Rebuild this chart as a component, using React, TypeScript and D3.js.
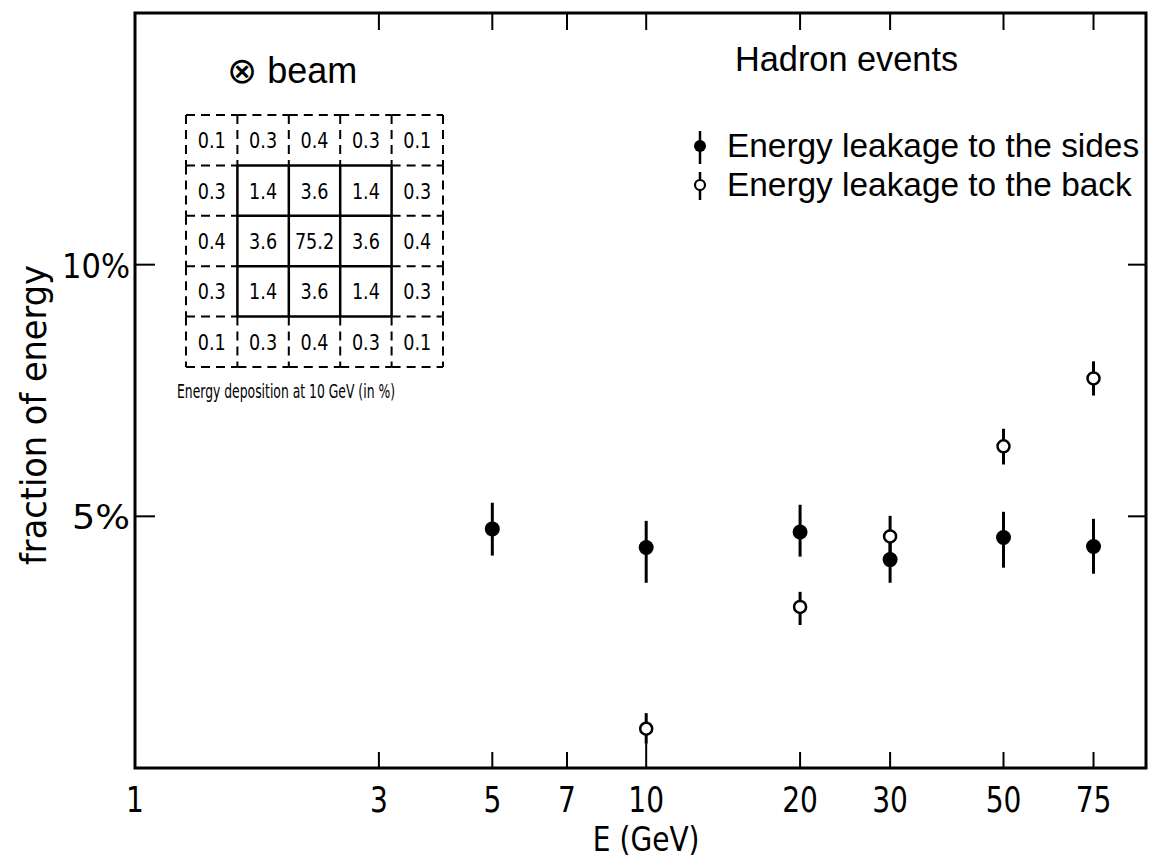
import React from "react";
import * as d3 from "d3";

// ---- Data ----
const xTickValues = [1, 3, 5, 7, 10, 20, 30, 50, 75];
const yTickValues = [5, 10];

const sidesEnergy = [5, 10, 20, 30, 50, 75];
const sidesValue = [4.75, 4.38, 4.69, 4.14, 4.58, 4.4];
const sidesLow = [4.22, 3.68, 4.2, 3.68, 3.98, 3.86];
const sidesHigh = [5.27, 4.91, 5.23, 4.58, 5.09, 4.95];

const backEnergy = [10, 20, 30, 50, 75];
const backValue = [0.78, 3.2, 4.6, 6.39, 7.74];
const backLow = [0.48, 2.84, 4.24, 6.03, 7.4];
const backHigh = [1.09, 3.5, 5.01, 6.74, 8.08];

const insetRow1 = ["0.1", "0.3", "0.4", "0.3", "0.1"];
const insetRow2 = ["0.3", "1.4", "3.6", "1.4", "0.3"];
const insetRow3 = ["0.4", "3.6", "75.2", "3.6", "0.4"];
const insetRow4 = ["0.3", "1.4", "3.6", "1.4", "0.3"];
const insetRow5 = ["0.1", "0.3", "0.4", "0.3", "0.1"];
const insetRows = [insetRow1, insetRow2, insetRow3, insetRow4, insetRow5];

const legendTitle = "Hadron events";
const legendSides = "Energy leakage to the sides";
const legendBack = "Energy leakage to the back";
const insetCaption = "Energy deposition at 10 GeV (in %)";
const xTitle = "E (GeV)";
const yTitle = "fraction of energy";

// ---- Layout ----
const W = 1150;
const H = 858;
const left = 135;
const right = 1146;
const top = 13;
const bottom = 768;
const FONT = "'DejaVu Sans', 'Liberation Sans', sans-serif";
const LEGEND_FONT = "'Liberation Sans', 'DejaVu Sans', sans-serif";

export default function App() {
  const x = d3.scaleLog().domain([1, 95]).range([left, right]);
  const y = d3.scaleLinear().domain([0, 15]).range([bottom, top]);

  // inset grid scales
  const gx = d3.scaleLinear().domain([0, 5]).range([186, 443]);
  const gy = d3.scaleLinear().domain([0, 5]).range([115, 367]);
  const isInner = (r: number, c: number) => r >= 1 && r <= 3 && c >= 1 && c <= 3;

  const gridSegs: { x1: number; y1: number; x2: number; y2: number; solid: boolean }[] = [];
  for (let k = 0; k <= 5; k++) {
    for (let c = 0; c < 5; c++) {
      const solid = (k - 1 >= 0 && isInner(k - 1, c)) || (k <= 4 && isInner(k, c));
      gridSegs.push({ x1: gx(c), y1: gy(k), x2: gx(c + 1), y2: gy(k), solid });
    }
  }
  for (let k = 0; k <= 5; k++) {
    for (let r = 0; r < 5; r++) {
      const solid = (k - 1 >= 0 && isInner(r, k - 1)) || (k <= 4 && isInner(r, k));
      gridSegs.push({ x1: gx(k), y1: gy(r), x2: gx(k), y2: gy(r + 1), solid });
    }
  }

  return (
    <svg
      width={W}
      height={H}
      style={{ position: "absolute", left: 0, top: 0, background: "#fff" }}
      fontFamily={FONT}
    >
      <rect x={0} y={0} width={W} height={H} fill="#fff" />
      {/* frame */}
      <rect x={left} y={top} width={right - left} height={bottom - top} fill="none" stroke="#000" strokeWidth={3} />

      {/* x ticks bottom & top */}
      {xTickValues.slice(1).map((v) => (
        <g key={"xt" + v}>
          <line x1={x(v)} x2={x(v)} y1={bottom} y2={bottom - (v === 10 ? 24 : 16)} stroke="#000" strokeWidth={2} />
          <line x1={x(v)} x2={x(v)} y1={top} y2={top + 17} stroke="#000" strokeWidth={2} />
        </g>
      ))}
      {xTickValues.map((v) => (
        <text
          key={"xl" + v}
          transform={`translate(${x(v)}, 812) scale(0.78, 1)`}
          textAnchor="middle"
          fontSize={36}
          fill="#000"
        >
          {v}
        </text>
      ))}
      <text
        transform={`translate(${x(10)}, 851) scale(0.85, 1)`}
        textAnchor="middle"
        fontSize={33}
        fill="#000"
      >
        {xTitle}
      </text>

      {/* y ticks */}
      {yTickValues.map((v) => (
        <g key={"yt" + v}>
          <line x1={left} x2={left + 20} y1={y(v)} y2={y(v)} stroke="#000" strokeWidth={2} />
          <line x1={right} x2={right - 18} y1={y(v)} y2={y(v)} stroke="#000" strokeWidth={2} />
          <text x={130} y={y(v) + 13} textAnchor="end" fontSize={34} fill="#000" textLength={v === 10 ? 68 : 58} lengthAdjust="spacingAndGlyphs">
            {v + "%"}
          </text>
        </g>
      ))}
      <text
        transform={`translate(46, ${(265 + 565) / 2}) rotate(-90)`}
        textAnchor="middle"
        fontSize={36}
        fill="#000"
        textLength={300}
        lengthAdjust="spacingAndGlyphs"
      >
        {yTitle}
      </text>

      {/* sides: filled */}
      {sidesEnergy.map((e, i) => (
        <g key={"s" + e}>
          <line x1={x(e)} x2={x(e)} y1={y(sidesLow[i])} y2={y(sidesHigh[i])} stroke="#000" strokeWidth={3} />
          <circle cx={x(e)} cy={y(sidesValue[i])} r={7.5} fill="#000" />
        </g>
      ))}
      {/* back: open */}
      {backEnergy.map((e, i) => (
        <g key={"b" + e}>
          <line x1={x(e)} x2={x(e)} y1={y(backLow[i])} y2={y(backHigh[i])} stroke="#000" strokeWidth={3} />
          <circle cx={x(e)} cy={y(backValue[i])} r={6} fill="#fff" stroke="#000" strokeWidth={2.5} />
        </g>
      ))}

      {/* legend */}
      <text x={735} y={71} fontSize={34.3} fill="#000" fontFamily={LEGEND_FONT}>
        {legendTitle}
      </text>
      <line x1={700} x2={700} y1={131} y2={164} stroke="#000" strokeWidth={2.5} />
      <circle cx={700} cy={146} r={6} fill="#000" />
      <text x={727} y={157} fontSize={33.4} fill="#000" fontFamily={LEGEND_FONT}>
        {legendSides}
      </text>
      <line x1={700} x2={700} y1={172} y2={200} stroke="#000" strokeWidth={2.5} />
      <circle cx={700} cy={185} r={5} fill="#fff" stroke="#000" strokeWidth={2.2} />
      <text x={727} y={196} fontSize={33.4} fill="#000" fontFamily={LEGEND_FONT}>
        {legendBack}
      </text>

      {/* inset */}
      <text x={227} y={83} fontSize={36} fill="#000" fontFamily={LEGEND_FONT}>
        ⊗ beam
      </text>
      {gridSegs.map((s, i) => (
        <line
          key={"g" + i}
          x1={s.x1}
          y1={s.y1}
          x2={s.x2}
          y2={s.y2}
          stroke="#000"
          strokeWidth={s.solid ? 2.5 : 2}
          strokeDasharray={s.solid ? undefined : "9 6"}
        />
      ))}
      {insetRows.map((row, r) =>
        row.map((val, c) => (
          <text
            key={"c" + r + "-" + c}
            transform={`translate(${(gx(c) + gx(c + 1)) / 2}, ${(gy(r) + gy(r + 1)) / 2 + 8}) scale(0.8, 1)`}
            textAnchor="middle"
            fontSize={22}
            fill="#000"
          >
            {val}
          </text>
        ))
      )}
      <text x={177} y={398} fontSize={20} fill="#000" textLength={218} lengthAdjust="spacingAndGlyphs">
        {insetCaption}
      </text>
    </svg>
  );
}
